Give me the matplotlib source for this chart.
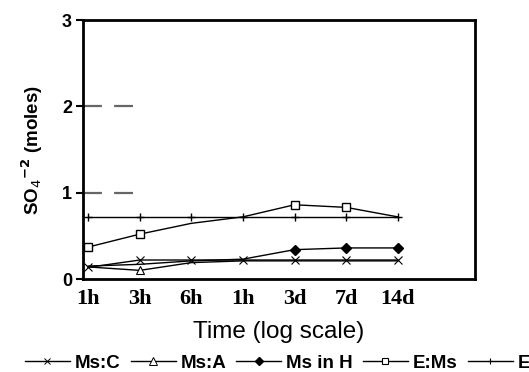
import numpy as np
import matplotlib.pyplot as plt
from matplotlib.lines import Line2D

# Sulfate released over time
times = ['1h', '3h', '6h', '1h', '3d', '7d', '14d']
ms_c = [0.135, 0.22, 0.22, 0.22, 0.22, 0.22, 0.22]
ms_a = [0.14, 0.10, 0.19, 0.21, 0.21, 0.21, 0.21]
ms_in_h = [0.15, 0.17, 0.21, 0.23, 0.34, 0.36, 0.36]
e_ms = [0.37, 0.52, 0.645, 0.72, 0.86, 0.83, 0.72]
e = [0.72, 0.72, 0.72, 0.72, 0.72, 0.72, 0.72]

x = np.arange(len(times))

fig = plt.figure(figsize=(5.29, 3.72), dpi=100)
ax = fig.add_axes([0.157, 0.25, 0.741, 0.696])

lw = 1.0
ax.plot(x, e, '-', color='black', lw=lw, marker='+', ms=6, mew=1.0)
ax.plot(x, e_ms, '-', color='black', lw=lw, marker='s', ms=6, mfc='white', mew=1.0,
        markevery=[0, 1, 4, 5])
ax.plot(x, ms_in_h, '-', color='black', lw=lw, marker='D', ms=5, markevery=[4, 5, 6])
ax.plot(x, ms_c, '-', color='black', lw=lw, marker='x', ms=6, mew=0.8)
ax.plot(x, ms_a, '-', color='black', lw=lw, marker='^', ms=6, mfc='white', mew=0.8,
        markevery=[1])

# partial dashed gridlines
for yv in [1, 2]:
    ax.plot([-0.1, 0.95], [yv, yv], color='#666666', lw=1.6, dashes=(8.5, 5.5))

ax.set_xlim(-0.1, 7.5)
ax.set_ylim(0, 3)
ax.set_yticks([0, 1, 2, 3])
ax.set_yticklabels(['0', '1', '2', '3'], fontsize=13, fontweight='bold',
                   family='Liberation Sans')
ax.set_xticks(x)
ax.set_xticklabels(times, fontsize=16, family='Liberation Serif', fontweight='bold')
ax.tick_params(axis='x', length=0, pad=7)
ax.tick_params(axis='y', length=5, width=1.5, pad=3)
for s in ax.spines.values():
    s.set_linewidth(2)

ax.set_xlabel('Time (log scale)', fontsize=17.5, family='Liberation Sans', labelpad=9)
ax.set_ylabel(r'SO$_4$$^{\mathbf{-2}}$ (moles)', fontsize=13.5, fontweight='bold',
              family='Liberation Sans', labelpad=12)

handles = [
    Line2D([], [], color='black', lw=lw, marker='x', ms=4, mew=0.7),
    Line2D([], [], color='black', lw=lw, marker='^', ms=6, mfc='white', mew=0.7),
    Line2D([], [], color='black', lw=lw, marker='D', ms=4),
    Line2D([], [], color='black', lw=lw, marker='s', ms=5, mfc='white', mew=0.8),
    Line2D([], [], color='black', lw=lw, marker='+', ms=5, mew=0.8),
]
labels = ['Ms:C', 'Ms:A', 'Ms in H', 'E:Ms', 'E']
fig.legend(handles, labels, loc='center left', bbox_to_anchor=(0.047, 0.024), ncol=5,
           frameon=False, handlelength=2.4, handletextpad=0.25, columnspacing=0.55,
           borderpad=0, borderaxespad=0,
           prop={'family': 'Liberation Sans', 'weight': 'bold', 'size': 13.5})

fig.savefig('out.png', dpi=100)
